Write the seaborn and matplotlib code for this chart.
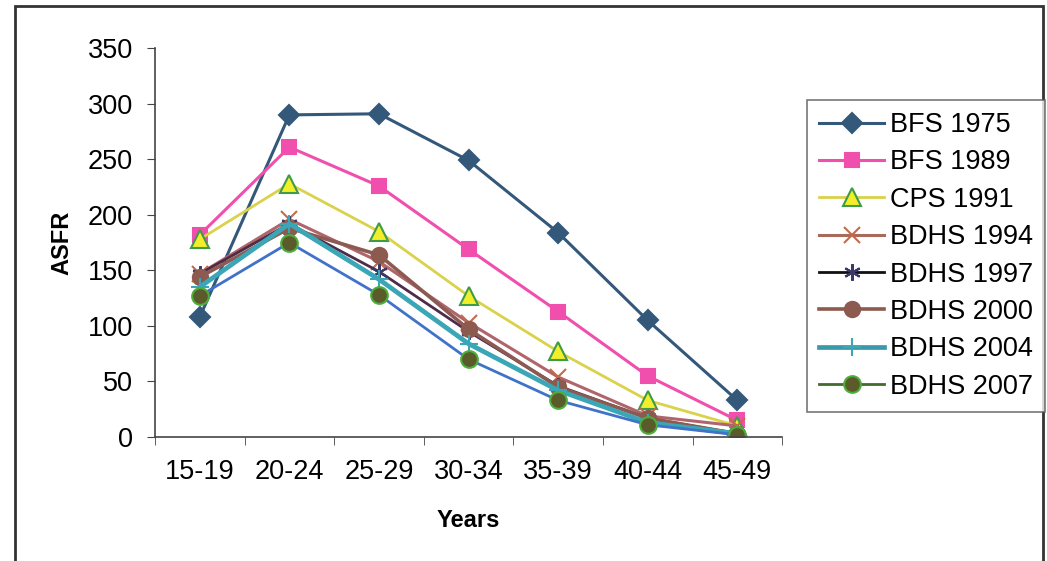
import numpy as np
import pandas as pd
import matplotlib
matplotlib.use("Agg")
import matplotlib.pyplot as plt
from matplotlib.lines import Line2D
from matplotlib.patches import Rectangle
import seaborn as sns

# Данные
age_groups = ["15-19", "20-24", "25-29", "30-34", "35-39", "40-44", "45-49"]
series_names = ["BFS 1975", "BFS 1989", "CPS 1991", "BDHS 1994",
                "BDHS 1997", "BDHS 2000", "BDHS 2004", "BDHS 2007"]
bfs_1975 = [108, 290, 291, 249, 184, 105, 33]
bfs_1989 = [182, 261, 226, 169, 113, 55, 15]
cps_1991 = [178, 228, 185, 127, 77, 33, 10]
bdhs_1994 = [147, 196, 158, 103, 54, 19, 10]
bdhs_1997 = [147, 192, 149, 95, 46, 17, 3]
bdhs_2000 = [144, 188, 164, 97, 45, 17, 3]
bdhs_2004 = [135, 192, 142, 84, 42, 13, 3]
bdhs_2007 = [127, 175, 128, 70, 33, 11, 2]
all_values = [bfs_1975, bfs_1989, cps_1991, bdhs_1994,
              bdhs_1997, bdhs_2000, bdhs_2004, bdhs_2007]

# Стили серий: (цвет линии, маркер, заливка, обводка, размер, толщина)
styles = {
    "BFS 1975": ("#34587a", "D", "#34587a", "#34587a", 10, 2.2),
    "BFS 1989": ("#f04fae", "s", "#f04fae", "#f04fae", 10, 2.2),
    "CPS 1991": ("#d9d24a", "^", "#f2ee2a", "#3f9a4a", 13, 2.0),
    "BDHS 1994": ("#b0656a", "x", "#c46a4a", "#c46a4a", 12, 2.2),
    "BDHS 1997": ("#4e2b48", (6, 2, 0), "#2a2a2a", "#3a3a6a", 12, 2.0),
    "BDHS 2000": ("#8c5a52", "o", "#8c5a4e", "#8c5a4e", 11, 2.6),
    "BDHS 2004": ("#3aa6b6", "+", "#3aa6b6", "#3aa6b6", 13, 3.4),
    "BDHS 2007": ("#3f72c8", "o", "#5a5a2a", "#4cae3a", 12, 2.0),
}
legend_colors = {
    "BFS 1975": "#34587a", "BFS 1989": "#f04fae", "CPS 1991": "#d9d24a",
    "BDHS 1994": "#a86a5a", "BDHS 1997": "#111111", "BDHS 2000": "#8c5a4e",
    "BDHS 2004": "#3a9aaa", "BDHS 2007": "#3f6b2e",
}

plt.rcParams['font.family'] = ['Liberation Sans', 'DejaVu Sans']

fig = plt.figure(figsize=(10.47, 5.61), dpi=100)
fig.patch.set_facecolor("white")
ax = fig.add_axes([0.148, 0.221, 0.599, 0.693])

for name, vals in zip(series_names, all_values):
    df = pd.DataFrame({"age": age_groups, "asfr": vals})
    color, marker, mfc, mec, ms, lw = styles[name]
    sns.lineplot(data=df, x="age", y="asfr", ax=ax, color=color, linewidth=lw,
                 marker=marker, markersize=ms, markerfacecolor=mfc,
                 markeredgecolor=mec, markeredgewidth=1.5, sort=False)

ax.set_xlim(-0.5, len(age_groups) - 0.5)
ax.set_ylim(0, 350)
ax.set_yticks(np.arange(0, 351, 50))
ax.set_xticks(np.arange(len(age_groups)))
ax.set_xticklabels(age_groups)
ax.set_xticks(np.arange(len(age_groups) + 1) - 0.5, minor=True)
ax.tick_params(axis="x", which="major", length=0, pad=16, labelsize=19.5)
ax.tick_params(axis="x", which="minor", length=6, direction="out", color="#444444")
ax.tick_params(axis="y", length=6, direction="out", pad=10, labelsize=19.5, color="#444444")
for side in ["top", "right"]:
    ax.spines[side].set_visible(False)
for side in ["left", "bottom"]:
    ax.spines[side].set_color("#444444")
    ax.spines[side].set_linewidth(1.2)
ax.set_xlabel("Years", fontsize=17, fontweight="bold", labelpad=17)
ax.set_ylabel("ASFR", fontsize=17, fontweight="bold", labelpad=10)

handles = []
for name in series_names:
    color, marker, mfc, mec, ms, lw = styles[name]
    handles.append(Line2D([], [], color=legend_colors[name], linewidth=lw,
                          marker=marker, markersize=ms, markerfacecolor=mfc,
                          markeredgecolor=mec, markeredgewidth=1.5))
leg = fig.legend(handles, series_names, loc="upper left",
                 bbox_to_anchor=(0.771, 0.822), borderaxespad=0, fontsize=19.5,
                 frameon=True, fancybox=False, edgecolor="#555555",
                 handlelength=2.4, handletextpad=0.2, labelspacing=0.42,
                 borderpad=0.45)
leg.get_frame().set_linewidth(1.2)

# Рамка вокруг всего рисунка
fig.patches.append(Rectangle((0.014, -0.01), 0.982, 0.999, transform=fig.transFigure,
                             fill=False, edgecolor="#333333", linewidth=2))

fig.savefig("out.png", dpi=100)
